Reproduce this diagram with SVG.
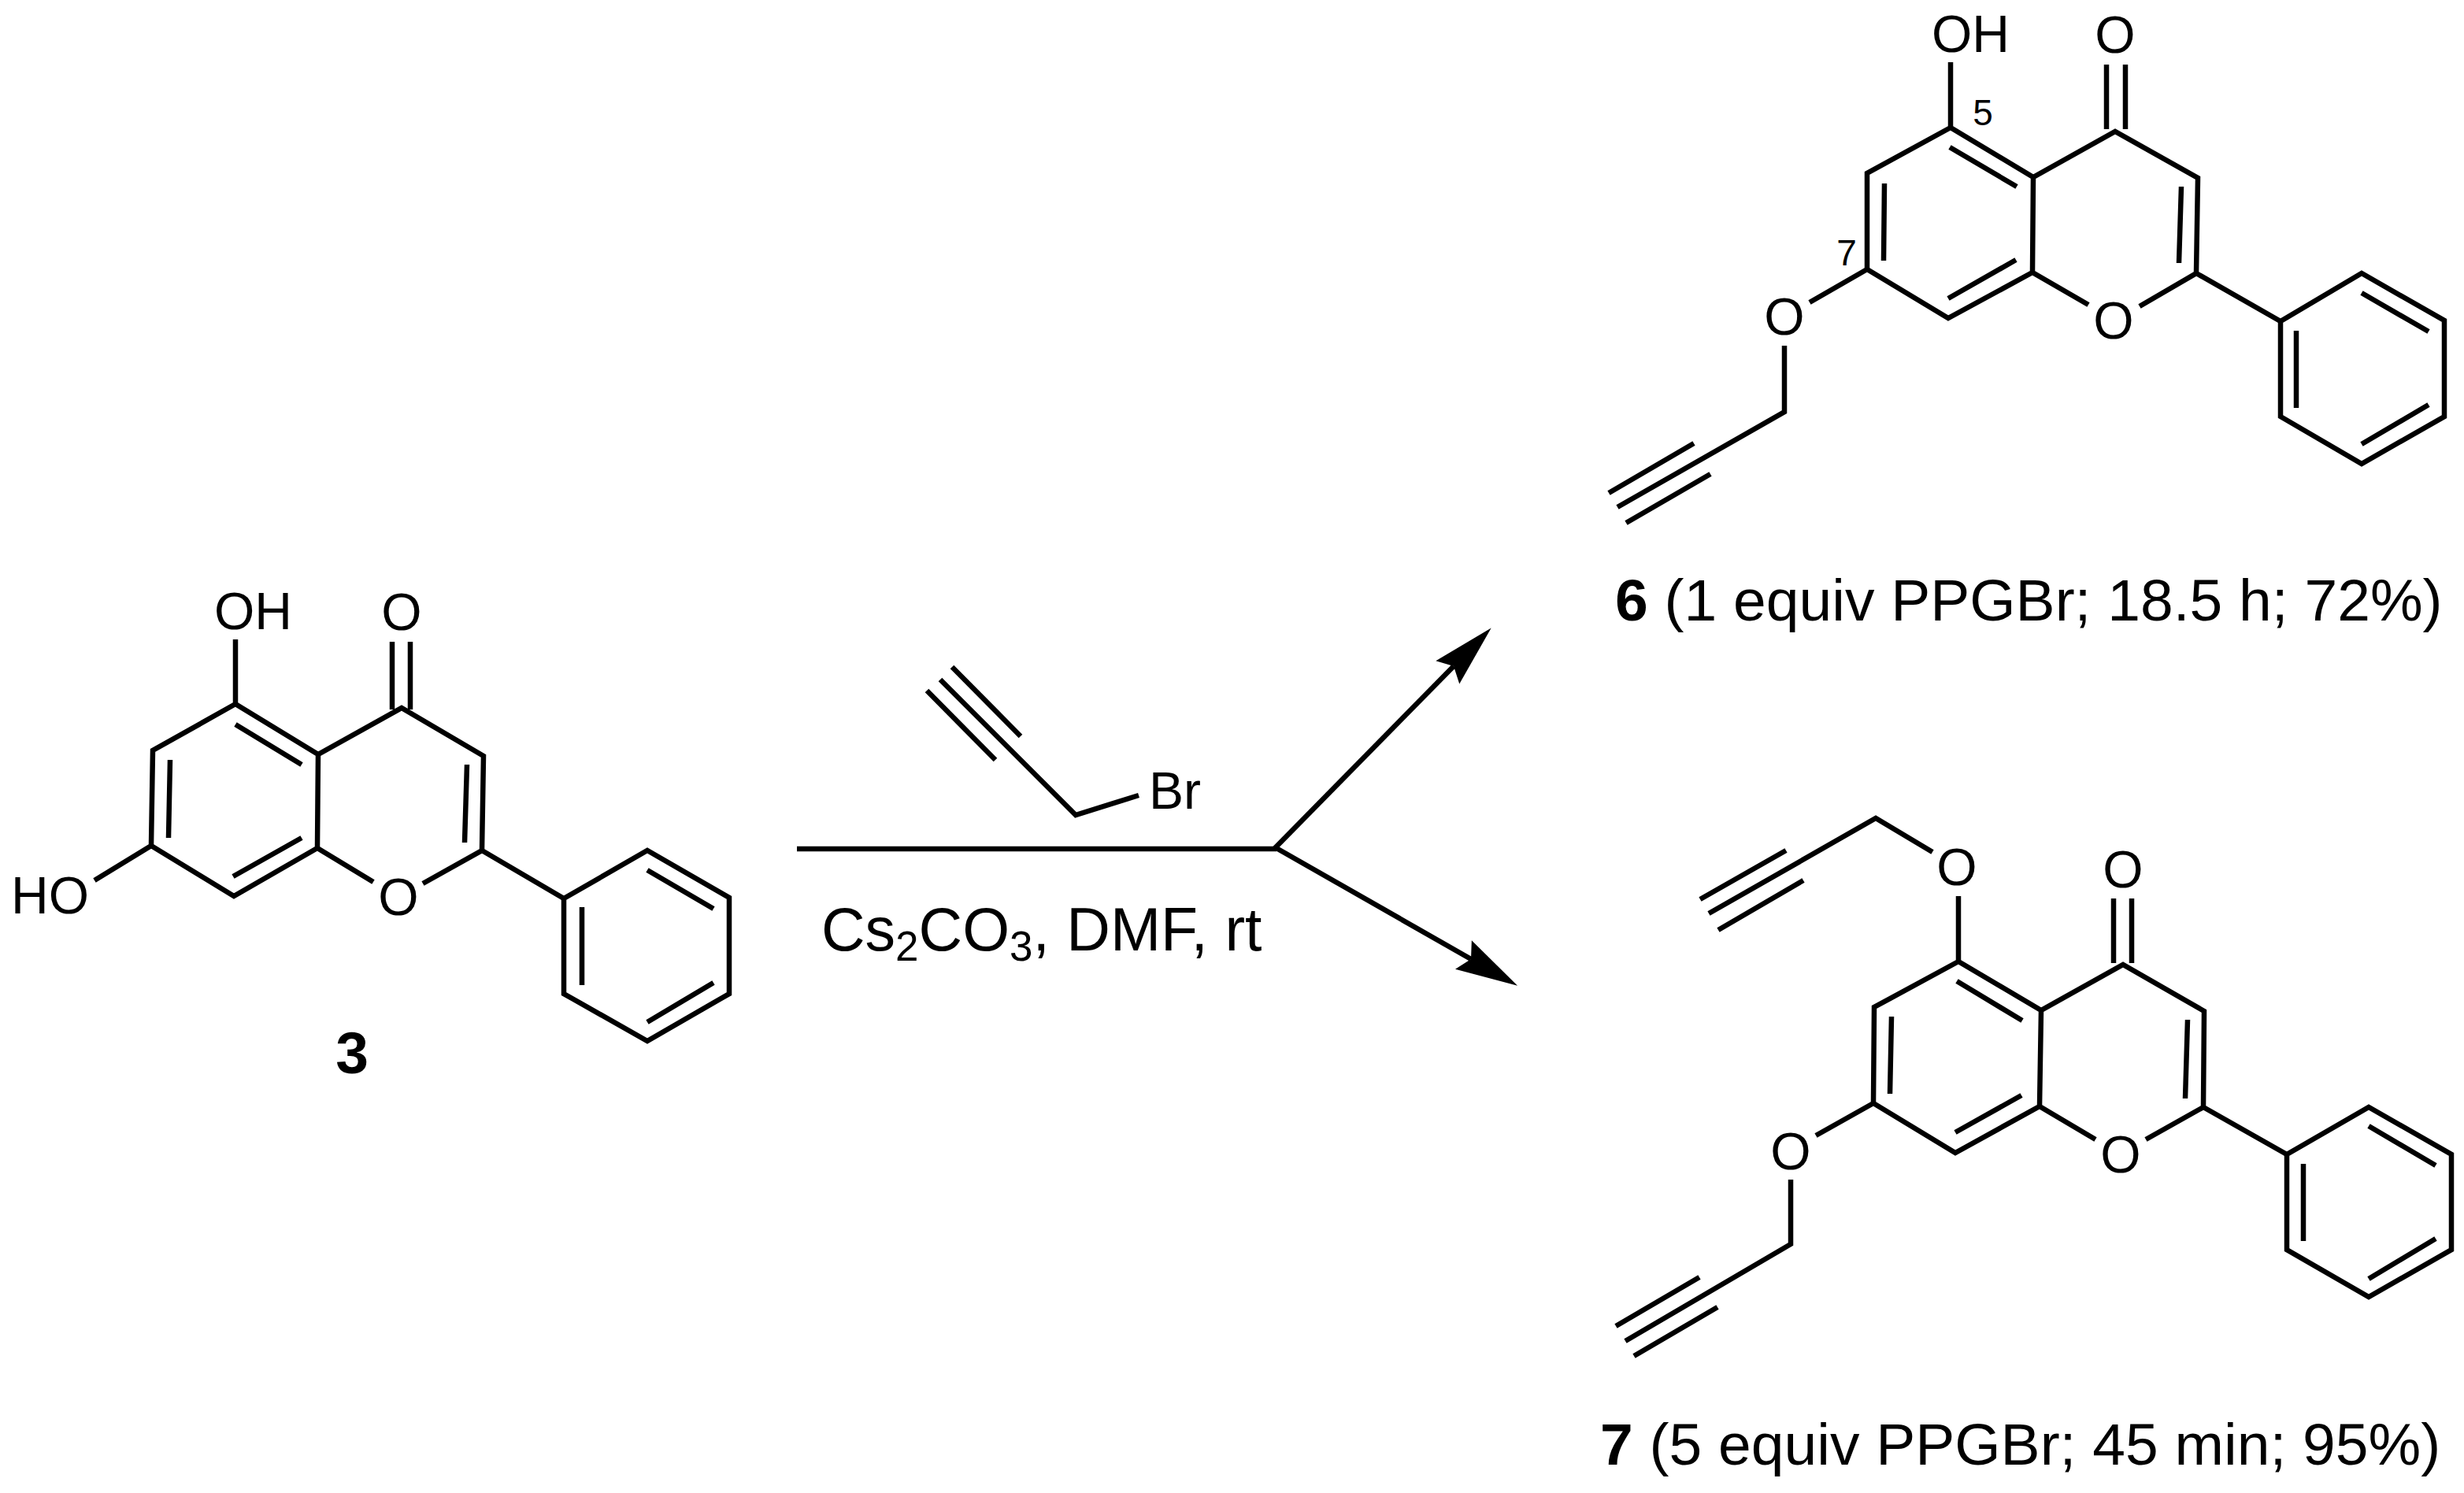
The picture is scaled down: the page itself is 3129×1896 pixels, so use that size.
<svg xmlns="http://www.w3.org/2000/svg" width="3129" height="1896" viewBox="0 0 3129 1896">
<style>
.b{fill:none;stroke:#000;stroke-width:6.5;stroke-linejoin:miter}
.a{fill:none;stroke:#000;stroke-width:6.5}
text{font-family:"Liberation Sans",Arial,sans-serif;fill:#000}
.t{font-size:66px}.s{font-size:46px}.l{font-size:75px}.n{font-size:75px;font-weight:bold}.r{font-size:77px}.u{font-size:53px}
</style>
<defs>
<marker id="head" markerUnits="userSpaceOnUse" markerWidth="90" markerHeight="50" refX="12" refY="25" orient="auto"><path d="M80,25 L1,4 L12,25 L1,46 Z" fill="#000"/></marker>
</defs>
<rect width="3129" height="1896" fill="#fff"/>
<g id="compound-3">
<path class="b" d="M299,894L404,958L510,899L614,960L612,1080L537,1122M474,1120L403,1077L297,1138L192,1074L194,953L299,894M404,958L403,1077M299,894V812M192,1074L120,1118M612,1080L716,1141"/>
<path class="b" d="M299,920L383,971M216,965L214,1064M296,1113L383,1064M593,971L590,1070M498,815V901M521,815V901"/>
<path class="b" d="M716,1141L822,1080L926,1140V1262L822,1322L716,1262ZM822,1105L906,1154M739,1152V1251M822,1298L906,1248"/>
<text class="t" x="272" y="799">OH</text><text class="t" x="510" y="800" text-anchor="middle">O</text><text class="t" x="14" y="1160">HO</text><text class="t" x="506" y="1162" text-anchor="middle">O</text>
<text class="n" x="447" y="1363" text-anchor="middle">3</text>
</g>
<g id="reagent">
<path class="b" d="M1446,1010L1366,1035L1194,863M1209,847L1296,935M1177,877L1264,965"/>
<text class="t" x="1459" y="1027">Br</text>
<text class="r" x="1043" y="1207">Cs<tspan class="u" dy="13">2</tspan><tspan dy="-13">CO</tspan><tspan class="u" dy="13">3</tspan><tspan dy="-13">, DMF, rt</tspan></text>
</g>
<g id="compound-6">
<path class="b" d="M2477,162L2582,225L2686,167L2791,226L2789,347L2717,389M2652,387L2581,346L2474,404L2371,342L2371,220L2477,162M2582,225L2581,346M2477,162V79M2371,342L2298,384M2266,439V523L2054,644M2151,563L2043,626M2172,602L2065,664M2789,347L2896,408"/>
<path class="b" d="M2476,187L2561,237M2393,233L2392,331M2474,379L2560,330M2770,237L2767,334M2675,82V164M2699,82V164"/>
<path class="b" d="M2896,408L2999,347L3104,407V529L2999,589L2896,529ZM2999,372L3084,421M2916,420V518M2999,564L3084,514"/>
<text class="t" x="2453" y="66">OH</text><text class="t" x="2686" y="67" text-anchor="middle">O</text><text class="t" x="2684" y="430" text-anchor="middle">O</text><text class="t" x="2266" y="425" text-anchor="middle">O</text>
<text class="s" x="2518" y="159" text-anchor="middle">5</text><text class="s" x="2345" y="337" text-anchor="middle">7</text>
<text class="l" x="2051" y="788"><tspan class="n">6</tspan> (1 equiv PPGBr; 18.5 h; 72%)</text>
</g>
<g id="compound-7">
<path class="b" d="M2487,1221L2592,1283L2696,1225L2799,1284L2798,1406L2725,1447M2661,1447L2590,1405L2483,1464L2379,1401L2380,1279L2487,1221M2592,1283L2590,1405M2487,1221V1138M2454,1082L2382,1039L2170,1160M2268,1080L2159,1142M2290,1118L2182,1181M2379,1401L2306,1442M2274,1498V1580L2064,1703M2158,1622L2052,1684M2181,1660L2075,1722M2798,1406L2904,1466"/>
<path class="b" d="M2485,1246L2568,1296M2402,1291L2400,1389M2483,1438L2567,1391M2778,1295L2775,1395M2684,1141V1223M2707,1141V1223"/>
<path class="b" d="M2904,1466L3008,1406L3113,1466V1587L3008,1647L2904,1587ZM3008,1430L3093,1480M2925,1478V1576M3008,1624L3093,1573"/>
<text class="t" x="2696" y="1127" text-anchor="middle">O</text><text class="t" x="2485" y="1124" text-anchor="middle">O</text><text class="t" x="2693" y="1489" text-anchor="middle">O</text><text class="t" x="2274" y="1485" text-anchor="middle">O</text>
<text class="l" x="2032" y="1860"><tspan class="n">7</tspan> (5 equiv PPGBr; 45 min; 95%)</text>
</g>
<g id="connectors">
<path class="a" d="M1012,1078H1621"/>
<path class="a" d="M1618,1078L1846,846" marker-end="url(#head)"/>
<path class="a" d="M1619,1076L1868,1218" marker-end="url(#head)"/>
</g>
</svg>
